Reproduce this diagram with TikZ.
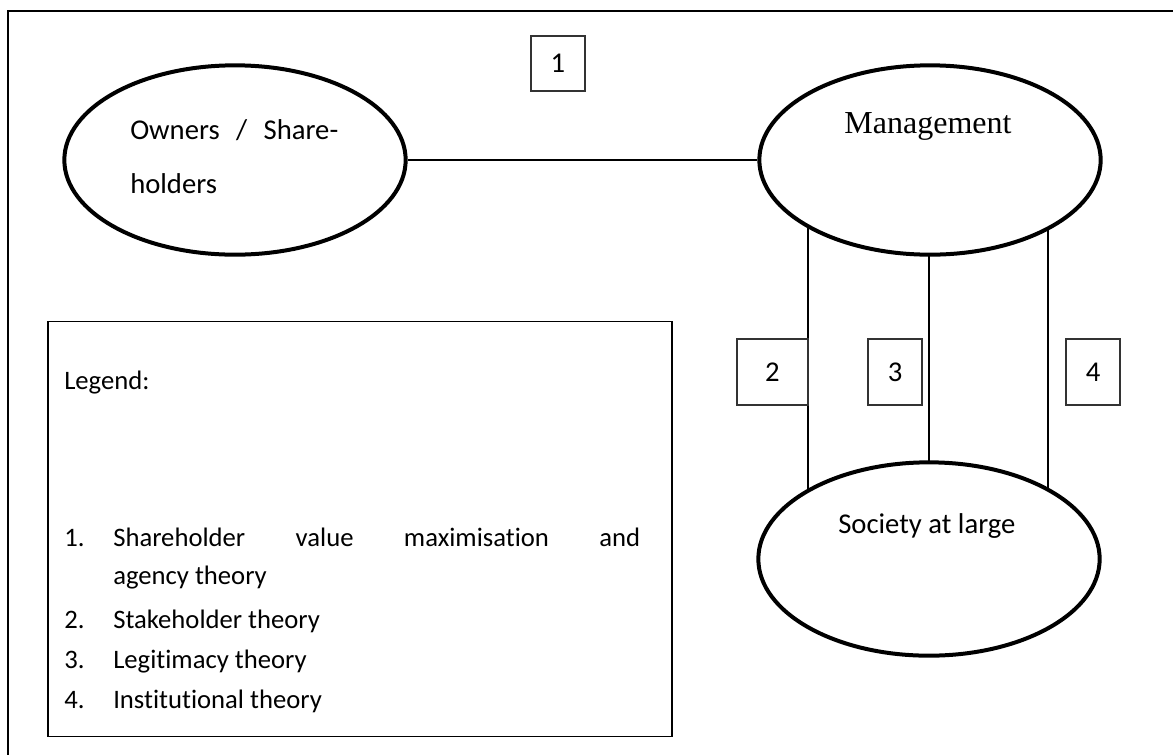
\documentclass[tikz,border=0pt]{standalone}
\usepackage{fontspec}
\setmainfont{Carlito}[Ligatures=NoCommon]
\newfontfamily\serifface{Liberation Serif}
\usetikzlibrary{shapes.geometric,backgrounds}
\begin{document}
\begin{tikzpicture}[x=0.75pt,y=-0.75pt,
  font=\fontsize{20}{24}\selectfont,
  bigtext/.style={font=\fontsize{21.5}{25}\selectfont},
  party/.style={ellipse, draw, line width=3pt, fill=white, inner sep=0pt,
    minimum width=256pt, minimum height=142pt},
  numbox/.style={draw=black!80, line width=0.8pt, inner sep=0pt, bigtext},
  link/.style={line width=1.2pt},
  legendbox/.style={draw, line width=1.2pt, inner sep=0pt},
  txt/.style={anchor=base west, inner sep=0pt}]
\clip (0,0) rectangle (1173,754);
% outer frame, running past the page edge
\draw[line width=1.6pt] (8,11) rectangle (1200,790);

% the three parties
\node[party] (own) at (235,160) {};
\node[party] (mgmt) at (930,160) {};
\node[party, minimum height=145pt] (soc) at (929,559) {};

\node[txt, bigtext] (ownA) at (130,139) {\makebox[156pt][s]{Owners / Share-}};
\node[txt, bigtext] (ownB) at (130,193) {holders};
\node[anchor=base, inner sep=0pt, font=\serifface\fontsize{24}{28}\selectfont] (mgmtT) at (928,133) {Management};
\node[txt, bigtext] (socT) at (838,533) {Society at large};

% relationships
\draw[link] (own) -- (mgmt);
\coordinate (c2) at (808,0);
\coordinate (c3) at (929,0);
\coordinate (c4) at (1048,0);
\begin{scope}[on background layer]
  \draw[link] (mgmt.center -| c2) -- (soc.center -| c2);
  \draw[link] (mgmt.center -| c3) -- (soc.center -| c3);
  \draw[link] (mgmt.center -| c4) -- (soc.center -| c4);
\end{scope}

% numbered tags
\node[numbox, minimum width=40.5pt, minimum height=41.25pt] (n1) at (558,63.5) {1};
\node[numbox, minimum width=53.25pt, minimum height=49.5pt] (n2) at (772.5,372) {2\hspace{10pt}};
\node[numbox, minimum width=40.5pt, minimum height=49.5pt] (n3) at (895,372) {3};
\node[numbox, minimum width=40.5pt, minimum height=49.5pt] (n4) at (1093,372) {4};

% legend
\node[legendbox, minimum width=468pt, minimum height=311pt] (leg) at (360,529) {};
\node[txt] (legT) at (64,389) {Legend:};
\node[txt] (k1) at (64,546) {1.};
\node[txt] (t1) at (113,546) {\makebox[395.25pt][s]{Shareholder value maximisation and}};
\node[txt] (t1b) at (113,584) {agency theory};
\node[txt] (k2) at (64,628) {2.};
\node[txt] (t2) at (113,628) {Stakeholder theory};
\node[txt] (k3) at (64,668) {3.};
\node[txt] (t3) at (113,668) {Legitimacy theory};
\node[txt] (k4) at (64,708) {4.};
\node[txt] (t4) at (113,708) {Institutional theory};
\end{tikzpicture}
\end{document}
